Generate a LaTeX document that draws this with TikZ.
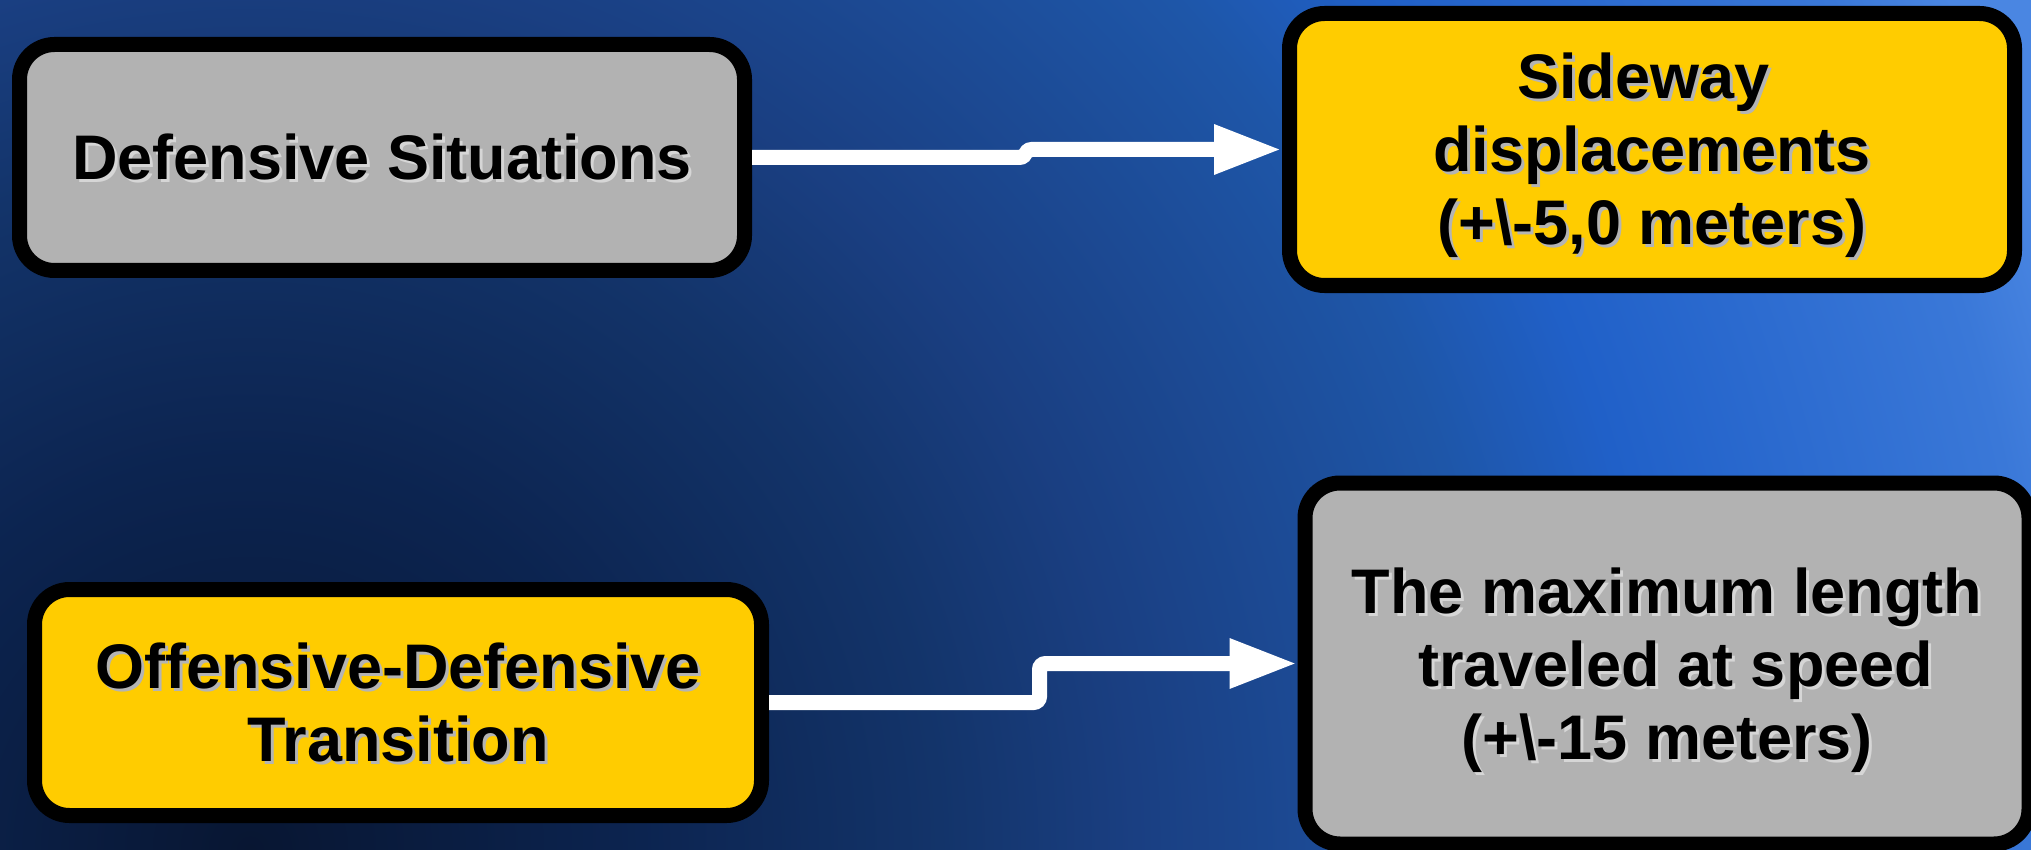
\documentclass[tikz,border=0pt]{standalone}
\usepackage{fontspec}
\setmainfont{Liberation Sans}
\usetikzlibrary{arrows.meta}

% palette
\definecolor{boxgray}{HTML}{B2B2B2}
\definecolor{boxgold}{HTML}{FFCC00}
\definecolor{shadeOnGray}{HTML}{D6D6D6}
\definecolor{shadeOnGold}{HTML}{B4B4B4}
\definecolor{bgA}{HTML}{081632}
\definecolor{bgB}{HTML}{0C2450}
\definecolor{bgC}{HTML}{13346A}
\definecolor{bgD}{HTML}{1A3F82}
\definecolor{bgE}{HTML}{1E56A8}
\definecolor{bgF}{HTML}{2060C8}
\definecolor{bgG}{HTML}{3A78D8}
\definecolor{bgH}{HTML}{4A86E2}

% dark centre low on the left, brightening outwards
\pgfdeclareradialshading{bgglow}{\pgfpoint{0bp}{0bp}}{%
  color(0bp)=(bgA); color(4.45bp)=(bgB); color(7.84bp)=(bgC);
  color(10.07bp)=(bgD); color(14.25bp)=(bgE); color(16.1bp)=(bgF);
  color(20.4bp)=(bgG); color(21.6bp)=(bgH); color(25bp)=(bgH); color(50bp)=(bgH)}

% every text line gets the same height and depth
\newcommand\lnstrut{\rule[-14pt]{0pt}{73pt}}

\tikzset{
  panel/.style={draw=black, line width=15pt, rounded corners=35pt, inner sep=0pt},
  lbl/.style={font=\fontsize{63pt}{73pt}\selectfont\bfseries, align=center, inner sep=0pt, anchor=center},
  link/.style={draw=white, line width=15pt, rounded corners=6pt,
    -{Triangle[length=68pt,width=46pt]}}
}

\begin{document}
\begin{tikzpicture}[x=1pt,y=-1pt]
\useasboundingbox (0,0) rectangle (2031,850);

% background
\begin{scope}
  \clip (0,0) rectangle (2031,850);
  \shade[shading=bgglow] (250,850) circle[radius=2200];
\end{scope}

% boxes
\node[panel, fill=boxgray, minimum width=725pt, minimum height=226pt] (b1) at (382,157.5) {};
\node[panel, fill=boxgold, minimum width=725pt, minimum height=272pt] (b2) at (1652,149.5) {};
\node[panel, fill=boxgold, minimum width=727pt, minimum height=226pt] (b3) at (398,702.5) {};
\node[panel, fill=boxgray, minimum width=724pt, minimum height=361pt] (b4) at (1667,663.5) {};

% text shadows
\node[lbl, text=shadeOnGray] (t1s) at ([shift={(3,3)}]b1.center) {\lnstrut Defensive Situations};
\node[lbl, text=shadeOnGold] (t2s) at ([shift={(3,3)}]b2.center)
  {\lnstrut Sideway\hspace*{17.5pt}\\\lnstrut displacements\\\lnstrut (+\textbackslash-5,0 meters)};
\node[lbl, text=shadeOnGold] (t3s) at ([shift={(3,3)}]b3.center)
  {\lnstrut Offensive-Defensive\\\lnstrut Transition};
\node[lbl, text=shadeOnGray] (t4s) at ([shift={(3,3)}]b4.center)
  {\lnstrut The maximum length\\\lnstrut\hspace*{17.5pt}traveled at speed\\\lnstrut (+\textbackslash-15 meters)};

% text
\node[lbl, text=black] (t1) at (b1.center) {\lnstrut Defensive Situations};
\node[lbl, text=black] (t2) at (b2.center)
  {\lnstrut Sideway\hspace*{17.5pt}\\\lnstrut displacements\\\lnstrut (+\textbackslash-5,0 meters)};
\node[lbl, text=black] (t3) at (b3.center)
  {\lnstrut Offensive-Defensive\\\lnstrut Transition};
\node[lbl, text=black] (t4) at (b4.center)
  {\lnstrut The maximum length\\\lnstrut\hspace*{17.5pt}traveled at speed\\\lnstrut (+\textbackslash-15 meters)};

% connectors
\draw[link] (b1.east) -- ++(273.5,0) |- (b2.west);
\draw[link] (b3.east) -- ++(270.5,0) |- (b4.west);
\end{tikzpicture}
\end{document}
